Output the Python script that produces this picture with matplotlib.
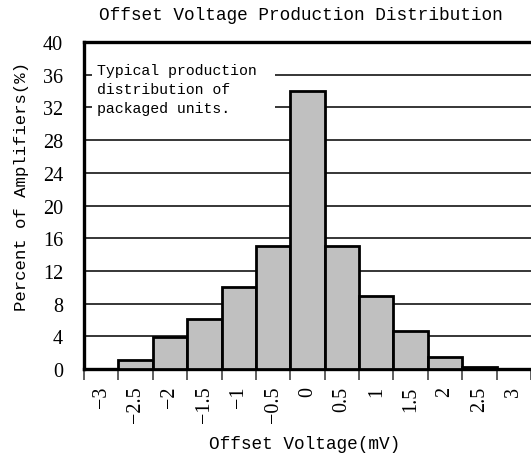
import matplotlib
matplotlib.use("Agg")
import matplotlib.pyplot as plt
from matplotlib.patches import Rectangle
import numpy as np

# offset voltage bins (mV) and percent of amplifiers in each
bins = ['−3', '−2.5', '−2', '−1.5', '−1', '−0.5', '0', '0.5', '1', '1.5', '2', '2.5', '3']
percent = [0, 1.1, 3.9, 6.1, 10, 15, 34, 15, 8.9, 4.6, 1.5, 0.3, 0.05]
yticks = [0, 4, 8, 12, 16, 20, 24, 28, 32, 36, 40]

mono = 'Liberation Mono'
serif = 'Liberation Serif'

fig = plt.figure(figsize=(5.31, 4.56), dpi=100)
ax = fig.add_axes([84 / 531, 86 / 456, 447 / 531, 327 / 456])

x = np.arange(len(bins))
ax.bar(x, percent, width=1.0, color='#c0c0c0', edgecolor='black', linewidth=2.0, zorder=3)

ax.set_xlim(-0.5, len(bins) - 0.5)
ax.set_ylim(0, 40)
ax.set_yticks(yticks)
ax.set_yticklabels([str(v) for v in yticks], fontfamily=serif, fontsize=14.5)
ax.tick_params(axis='y', length=0, pad=15)

# tick marks at bin edges, labels at bin centres
ax.set_xticks(np.arange(len(bins) + 1) - 0.5)
ax.set_xticklabels([])
ax.set_xticks(x, minor=True)
ax.set_xticklabels(bins, minor=True, rotation=90, fontfamily=serif, fontsize=14.5)
ax.tick_params(axis='x', which='major', length=8, width=1.2, color='#444444')
ax.tick_params(axis='x', which='minor', length=0, pad=12)

ax.grid(axis='y', color='black', linewidth=1.1, zorder=1)
ax.set_axisbelow(True)

for s in ['left', 'top', 'bottom']:
    ax.spines[s].set_linewidth(2.4)
ax.spines['right'].set_visible(False)

# white patch behind the note hides the grid lines there
ax.add_patch(Rectangle((0.018, 0.749), 0.41, 0.205, transform=ax.transAxes,
                       facecolor='white', edgecolor='none', zorder=2))
ax.text(0.029, 0.856, 'Typical production\ndistribution of\npackaged units.',
        transform=ax.transAxes, ha='left', va='center', fontfamily=mono,
        fontsize=10.7, linespacing=1.47, zorder=4)

ax.set_xlabel('Offset Voltage(mV)', fontfamily=mono, fontsize=12.8)
ax.xaxis.set_label_coords(0.494, -0.202)
ax.set_ylabel('Percent of Amplifiers(%)', fontfamily=mono, fontsize=12.5)
ax.yaxis.set_label_coords(-0.123, 0.56)

fig.text(301 / 531, 1 - 15 / 456, 'Offset Voltage Production Distribution',
         ha='center', va='center', fontfamily=mono, fontsize=12.8)

fig.savefig('out.png', dpi=100)
